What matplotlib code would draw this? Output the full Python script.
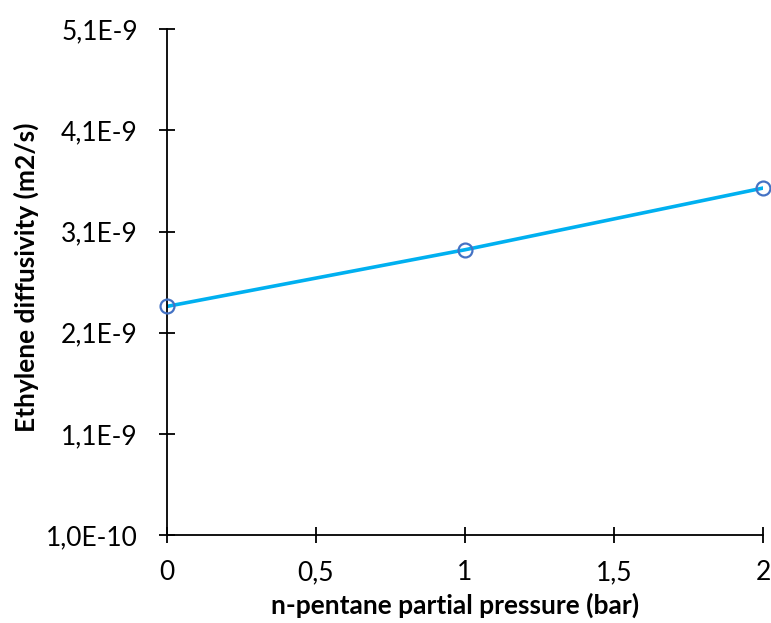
import matplotlib
matplotlib.use("Agg")
import matplotlib.pyplot as plt
from matplotlib.ticker import FuncFormatter

pressure_bar = [0, 1, 2]
diffusivity = [2.36e-9, 2.92e-9, 3.53e-9]

x_ticks = [0, 0.5, 1, 1.5, 2]
y_ticks = [1.0e-10, 1.1e-9, 2.1e-9, 3.1e-9, 4.1e-9, 5.1e-9]

LINE_COLOUR = "#00B0F0"
MARKER_EDGE = "#4472C4"
FS = 19

plt.rcParams["font.family"] = ["Lato", "DejaVu Sans"]


def fmt_x(v, pos):
    return f"{v:g}".replace(".", ",")


def fmt_y(v, pos):
    mant, exp = f"{v:.1E}".split("E")
    return f"{mant.replace('.', ',')}E{int(exp)}"


fig = plt.figure(figsize=(7.71, 6.23), dpi=100)
ax = fig.add_axes([0.2166, 0.1413, 0.773, 0.8117])

ax.plot(pressure_bar, diffusivity, color=LINE_COLOUR, lw=2.6, zorder=2)
ax.plot(pressure_bar, diffusivity, ls="none", marker="o", ms=10,
        mfc="none", mec=MARKER_EDGE, mew=1.6, zorder=3, clip_on=False)

ax.set_xlim(0, 2)
ax.set_ylim(1.0e-10, 5.1e-9)
ax.set_xticks(x_ticks)
ax.set_yticks(y_ticks)
ax.xaxis.set_major_formatter(FuncFormatter(fmt_x))
ax.yaxis.set_major_formatter(FuncFormatter(fmt_y))

for side in ("top", "right"):
    ax.spines[side].set_visible(False)
for side in ("left", "bottom"):
    ax.spines[side].set_linewidth(1.3)

ax.tick_params(direction="inout", length=12, width=1.3, labelsize=FS)
ax.tick_params(axis="x", pad=12)
ax.tick_params(axis="y", pad=15)

ax.set_xlabel("n-pentane partial pressure (bar)", fontsize=FS,
              fontweight="bold", va="center")
ax.xaxis.set_label_coords(0.483, -0.140)
ax.set_ylabel("Ethylene diffusivity (m2/s)", fontsize=FS,
              fontweight="bold", va="center")
ax.yaxis.set_label_coords(-0.2366, 0.509)

fig.savefig("out.png", dpi=100)
